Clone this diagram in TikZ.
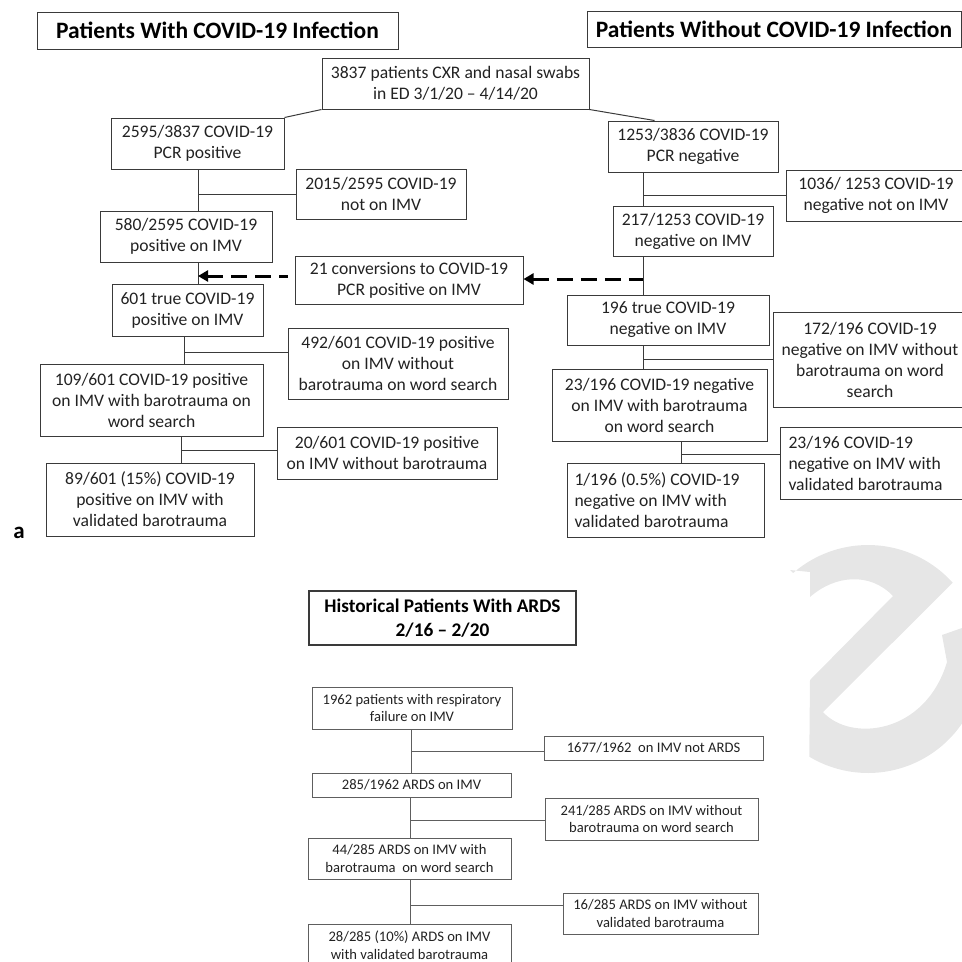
\documentclass[tikz,border=0pt]{standalone}
\usepackage{fontspec}
\setmainfont{Carlito}
\usetikzlibrary{arrows.meta,calc}
\definecolor{txt}{HTML}{222222}
\definecolor{ln}{HTML}{3A3A3A}
\definecolor{lnb}{HTML}{5E5E5E}
\definecolor{wm}{HTML}{E6E6E6}
\begin{document}
\begin{tikzpicture}[x=1pt,y=-1pt,
  box/.style={draw=ln, line width=1pt, align=center, text=txt, inner sep=0pt,
    font=\fontsize{17.6}{21}\selectfont},
  lbox/.style={draw=ln, line width=1pt, align=flush left, text=txt, inner ysep=0pt,
    font=\fontsize{17.6}{21}\selectfont},
  hdr/.style={draw=ln, line width=1pt, align=center, text=black, inner sep=0pt,
    font=\fontsize{23.5}{28}\selectfont\bfseries},
  bbox/.style={draw=lnb, line width=1pt, align=center, text=txt, inner sep=0pt,
    font=\fontsize{14.6}{17.5}\selectfont},
  bhdr/.style={draw=ln, line width=1.3pt, align=center, text=black, inner sep=0pt,
    font=\fontsize{19.3}{24}\selectfont\bfseries},
  conn/.style={draw=ln, line width=1pt},
  bconn/.style={draw=lnb, line width=1pt},
  dasharrow/.style={draw=black, line width=3pt, dash pattern=on 16pt off 8pt,
    {Triangle[length=10pt,width=11pt]}-}
]
\path[use as bounding box] (0,0) rectangle (962,962);
\clip (0,0) rectangle (962,962);

% watermark
\fill[wm] (790,570)
  -- plot[domain=-131:-42, samples=40] ({868+114*cos(\x)},{659+114*sin(\x)})
  -- (823,712) .. controls (850,742) and (925,735) .. (947,662) -- (942,635) -- (962,628) -- (962,723)
  -- plot[domain=34:121, samples=40] ({868+114*cos(\x)},{659+114*sin(\x)})
  -- (810,680) -- (893,596) .. controls (870,572) and (835,575) .. (810,597) -- (810,572) -- cycle;

% headers
\node[hdr, minimum width=361pt, minimum height=37pt] (h1) at (217.5,30.5) {Patients With COVID-19 Infection};
\node[hdr, minimum width=374pt, minimum height=36pt] (h2) at (774,29) {Patients Without COVID-19 Infection};

% top
\node[box, minimum width=267pt, minimum height=51pt] (n0) at (455.5,83.5) {3837 patients CXR and nasal swabs\\in ED 3/1/20 – 4/14/20};

% left branch
\node[box, minimum width=173pt, minimum height=51pt] (nP) at (197.5,143.5) {2595/3837 COVID-19\\PCR positive};
\node[box, minimum width=170pt, minimum height=50pt] (nP1) at (381,194) {2015/2595 COVID-19\\not on IMV};
\node[box, minimum width=172pt, minimum height=51pt] (nP2) at (186,236.5) {580/2595 COVID-19\\positive on IMV};
\node[box, minimum width=228pt, minimum height=48pt] (conv) at (409,280) {21 conversions to COVID-19\\PCR positive on IMV};
\node[box, minimum width=151pt, minimum height=52pt] (nP3) at (187.5,310) {601 true COVID-19\\positive on IMV};
\node[box, minimum width=220pt, minimum height=71pt] (nP4) at (398,363.5) {492/601 COVID-19 positive\\on IMV without\\barotrauma on word search};
\node[box, minimum width=223pt, minimum height=72pt] (nP5) at (151.5,400) {109/601 COVID-19 positive\\on IMV with barotrauma on\\word search};
\node[box, minimum width=220pt, minimum height=52pt] (nP6) at (387,453) {20/601 COVID-19 positive\\on IMV without barotrauma};
\node[box, minimum width=208pt, minimum height=73pt] (nP7) at (150,499.5) {89/601 (15\%) COVID-19\\positive on IMV with\\validated barotrauma};

% right branch
\node[box, minimum width=170pt, minimum height=51pt] (nN) at (693,146.5) {1253/3836 COVID-19\\PCR negative};
\node[box, minimum width=180pt, minimum height=51pt] (nN1) at (876,195.5) {1036/ 1253 COVID-19\\negative not on IMV};
\node[box, minimum width=160pt, minimum height=50pt] (nN2) at (693,231) {217/1253 COVID-19\\negative on IMV};
\node[box, minimum width=202pt, minimum height=50pt] (nN3) at (668,320) {196 true COVID-19\\negative on IMV};
\node[box, minimum width=194pt, minimum height=95pt] (nN4) at (870,359.5) {172/196 COVID-19\\negative on IMV without\\barotrauma on word\\search};
\node[box, minimum width=215pt, minimum height=72pt] (nN5) at (659.5,405) {23/196 COVID-19 negative\\on IMV with barotrauma\\on word search};
\node[lbox, anchor=north west, inner xsep=8pt, text width=179pt, minimum height=72pt] (nN6) at (780,427) {23/196 COVID-19\\negative on IMV with\\validated barotrauma};
\node[lbox, anchor=north west, inner xsep=7pt, text width=183pt, minimum height=74pt] (nN7) at (567,463) {1/196 (0.5\%) COVID-19\\negative on IMV with\\validated barotrauma};

\node[font=\fontsize{23}{28}\selectfont\bfseries, inner sep=0pt] (lblA) at (19,533) {a};

% junctions
\coordinate (jA) at (198,276);
\coordinate (jB) at (643,279);
\coordinate (jC) at (184,352);
\coordinate (jE) at (181,450);
\coordinate (jD) at (681,454);

% connectors top
\draw[conn] (n0.south west) -- (nP.north east);
\draw[conn] (n0.south east) -- ([xshift=47pt]nN.north west);

\draw[conn] (jA |- nP.south) -- (jA |- nP2.north);
\draw[conn] (jA |- nP1.west) -- (nP1.west);
\draw[conn] (jA |- nP2.south) -- (jA |- nP3.north);
\draw[dasharrow] (jA) -- ([xshift=-7pt]conv.west |- jA);

\draw[conn] (jB |- nN.south) -- (jB |- nN2.north);
\draw[conn] (jB |- nN1.west) -- (nN1.west);
\draw[conn] (jB |- nN2.south) -- (jB |- nN3.north);
\draw[dasharrow] (conv.east |- jB) -- (jB);

\draw[conn] (jC |- nP3.south) -- (jC |- nP5.north);
\draw[conn] (jC) -- (jC -| nP4.west);
\draw[conn] (jE |- nP5.south) -- (jE |- nP7.north);
\draw[conn] (jE) -- (jE -| nP6.west);

\draw[conn] (jB |- nN3.south) -- (jB |- nN5.north);
\draw[conn] (jB |- nN4.west) -- (nN4.west);
\draw[conn] (jD |- nN5.south) -- (jD |- nN7.north);
\draw[conn] (jD) -- (jD -| nN6.west);

% bottom
\node[bhdr, minimum width=267pt, minimum height=54pt] (hB) at (442.5,618) {Historical Patients With ARDS\\2/16 – 2/20};
\node[bbox, minimum width=200pt, minimum height=42pt] (b0) at (412,708) {1962 patients with respiratory\\failure on IMV};
\node[bbox, minimum width=219pt, minimum height=24pt] (b1) at (653.5,748) {1677/1962\ \ on IMV not ARDS};
\node[bbox, minimum width=199pt, minimum height=24pt] (b2) at (411.5,785) {285/1962 ARDS on IMV};
\node[bbox, minimum width=213pt, minimum height=42pt] (b3) at (651.5,819) {241/285 ARDS on IMV without\\barotrauma on word search};
\node[bbox, minimum width=203pt, minimum height=41pt] (b4) at (409.5,858.5) {44/285 ARDS on IMV with\\barotrauma\ \ on word search};
\node[bbox, minimum width=195pt, minimum height=41pt] (b5) at (660.5,913.5) {16/285 ARDS on IMV without\\validated barotrauma};
\node[bbox, minimum width=203pt, minimum height=42pt] (b6) at (409.5,945) {28/285 (10\%) ARDS on IMV\\with validated barotrauma};

\coordinate (jF) at (411,751);
\coordinate (jG) at (410,820);
\coordinate (jH) at (410,905);
\draw[bconn] (jF |- b0.south) -- (jF |- b2.north);
\draw[bconn] (jF) -- (jF -| b1.west);
\draw[bconn] (jG |- b2.south) -- (jG |- b4.north);
\draw[bconn] (jG) -- (jG -| b3.west);
\draw[bconn] (jH |- b4.south) -- (jH |- b6.north);
\draw[bconn] (jH) -- (jH -| b5.west);
\end{tikzpicture}
\end{document}
